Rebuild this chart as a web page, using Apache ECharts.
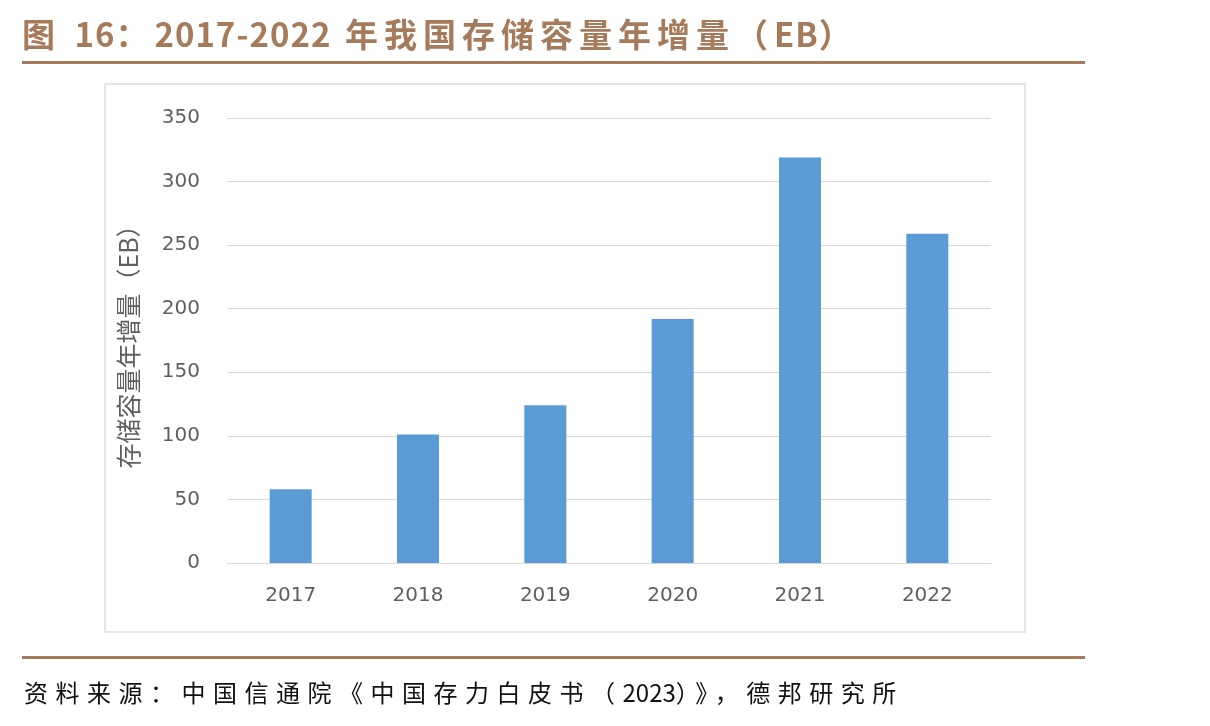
<!DOCTYPE html>
<html>
<head>
<meta charset="utf-8">
<script src="https://cdn.jsdelivr.net/npm/echarts@6/dist/echarts.min.js"></script>
<style>
  html, body { margin: 0; padding: 0; background: #fff; }
  #wrap { position: relative; width: 1210px; height: 726px; }
  #chart { width: 1210px; height: 726px; }
  .title {
    position: absolute; left: 22px; top: 9px;
    font: bold 33px 'Noto Sans CJK SC', sans-serif;
    color: #a57b5b; letter-spacing: 6px; white-space: nowrap;
  }
  .title .num { letter-spacing: 1px; }
  .source {
    position: absolute; left: 24px; top: 674px;
    font: 24px 'Noto Sans CJK SC', sans-serif;
    color: #111; letter-spacing: 7.5px; white-space: nowrap;
  }
  .source .num { letter-spacing: 0; }
</style>
</head>
<body>
<div id="wrap">
  <div id="chart"></div>
  <div class="title" id="title"></div>
  <div class="source" id="source"></div>
</div>
<script>
// 数据
const years = ["2017", "2018", "2019", "2020", "2021", "2022"];
const increments = [58, 101, 124, 192, 319, 259];
const yTicks = [0, 50, 100, 150, 200, 250, 300, 350];

const titleText = "图 16：2017-2022 年我国存储容量年增量（EB）";
const yName = "存储容量年增量（EB）";
const sourceText = "资料来源：中国信通院《中国存力白皮书（2023）》，德邦研究所";

const brown = "#a57b5b";
const cjk = "'Noto Sans CJK SC', 'Noto Sans', sans-serif";
const latin = "'DejaVu Sans', sans-serif";

// 标题、来源：数字部分不加字距
function fillText(el, text) {
  text.split(/([0-9A-Za-z\-]+)/).forEach((part) => {
    if (!part) return;
    const span = document.createElement("span");
    if (/^[0-9A-Za-z\-]+$/.test(part)) span.className = "num";
    span.textContent = part;
    el.appendChild(span);
  });
}
fillText(document.getElementById("title"), titleText);
fillText(document.getElementById("source"), sourceText);

const chart = echarts.init(document.getElementById("chart"));

const option = {
  backgroundColor: "#fff",
  animation: false,
  grid: {
    left: 227,
    right: 219,
    top: 118,
    bottom: 163,
  },
  xAxis: {
    type: "category",
    data: years,
    axisLine: { lineStyle: { color: "#d9d9d9", width: 1 } },
    axisTick: { show: false },
    axisLabel: {
      color: "#5f5f5f",
      fontSize: 20,
      margin: 23,
      fontFamily: latin,
    },
  },
  yAxis: {
    type: "value",
    min: yTicks[0],
    max: yTicks[yTicks.length - 1],
    interval: 50,
    name: yName,
    nameLocation: "middle",
    nameGap: 86,
    nameRotate: 90,
    nameTextStyle: {
      color: "#5f5f5f",
      fontSize: 25,
      fontFamily: cjk,
    },
    axisLine: { show: false },
    axisTick: { show: false },
    axisLabel: {
      color: "#5f5f5f",
      fontSize: 20,
      margin: 27,
      fontFamily: latin,
    },
    splitLine: { lineStyle: { color: "#d9d9d9", width: 1 } },
  },
  series: [
    {
      type: "bar",
      data: increments,
      barWidth: "33%",
      itemStyle: { color: "#5b9bd5" },
    },
  ],
  graphic: [
    {
      type: "rect",
      shape: { x: 22, y: 61, width: 1063, height: 3 },
      style: { fill: brown },
    },
    {
      type: "rect",
      shape: { x: 105, y: 84, width: 920, height: 548 },
      style: { fill: "none", stroke: "#e6e6e6", lineWidth: 2 },
      z: -1,
    },
    {
      type: "rect",
      shape: { x: 22, y: 656, width: 1063, height: 3 },
      style: { fill: brown },
    },
  ],
};

chart.setOption(option);
</script>
</body>
</html>
